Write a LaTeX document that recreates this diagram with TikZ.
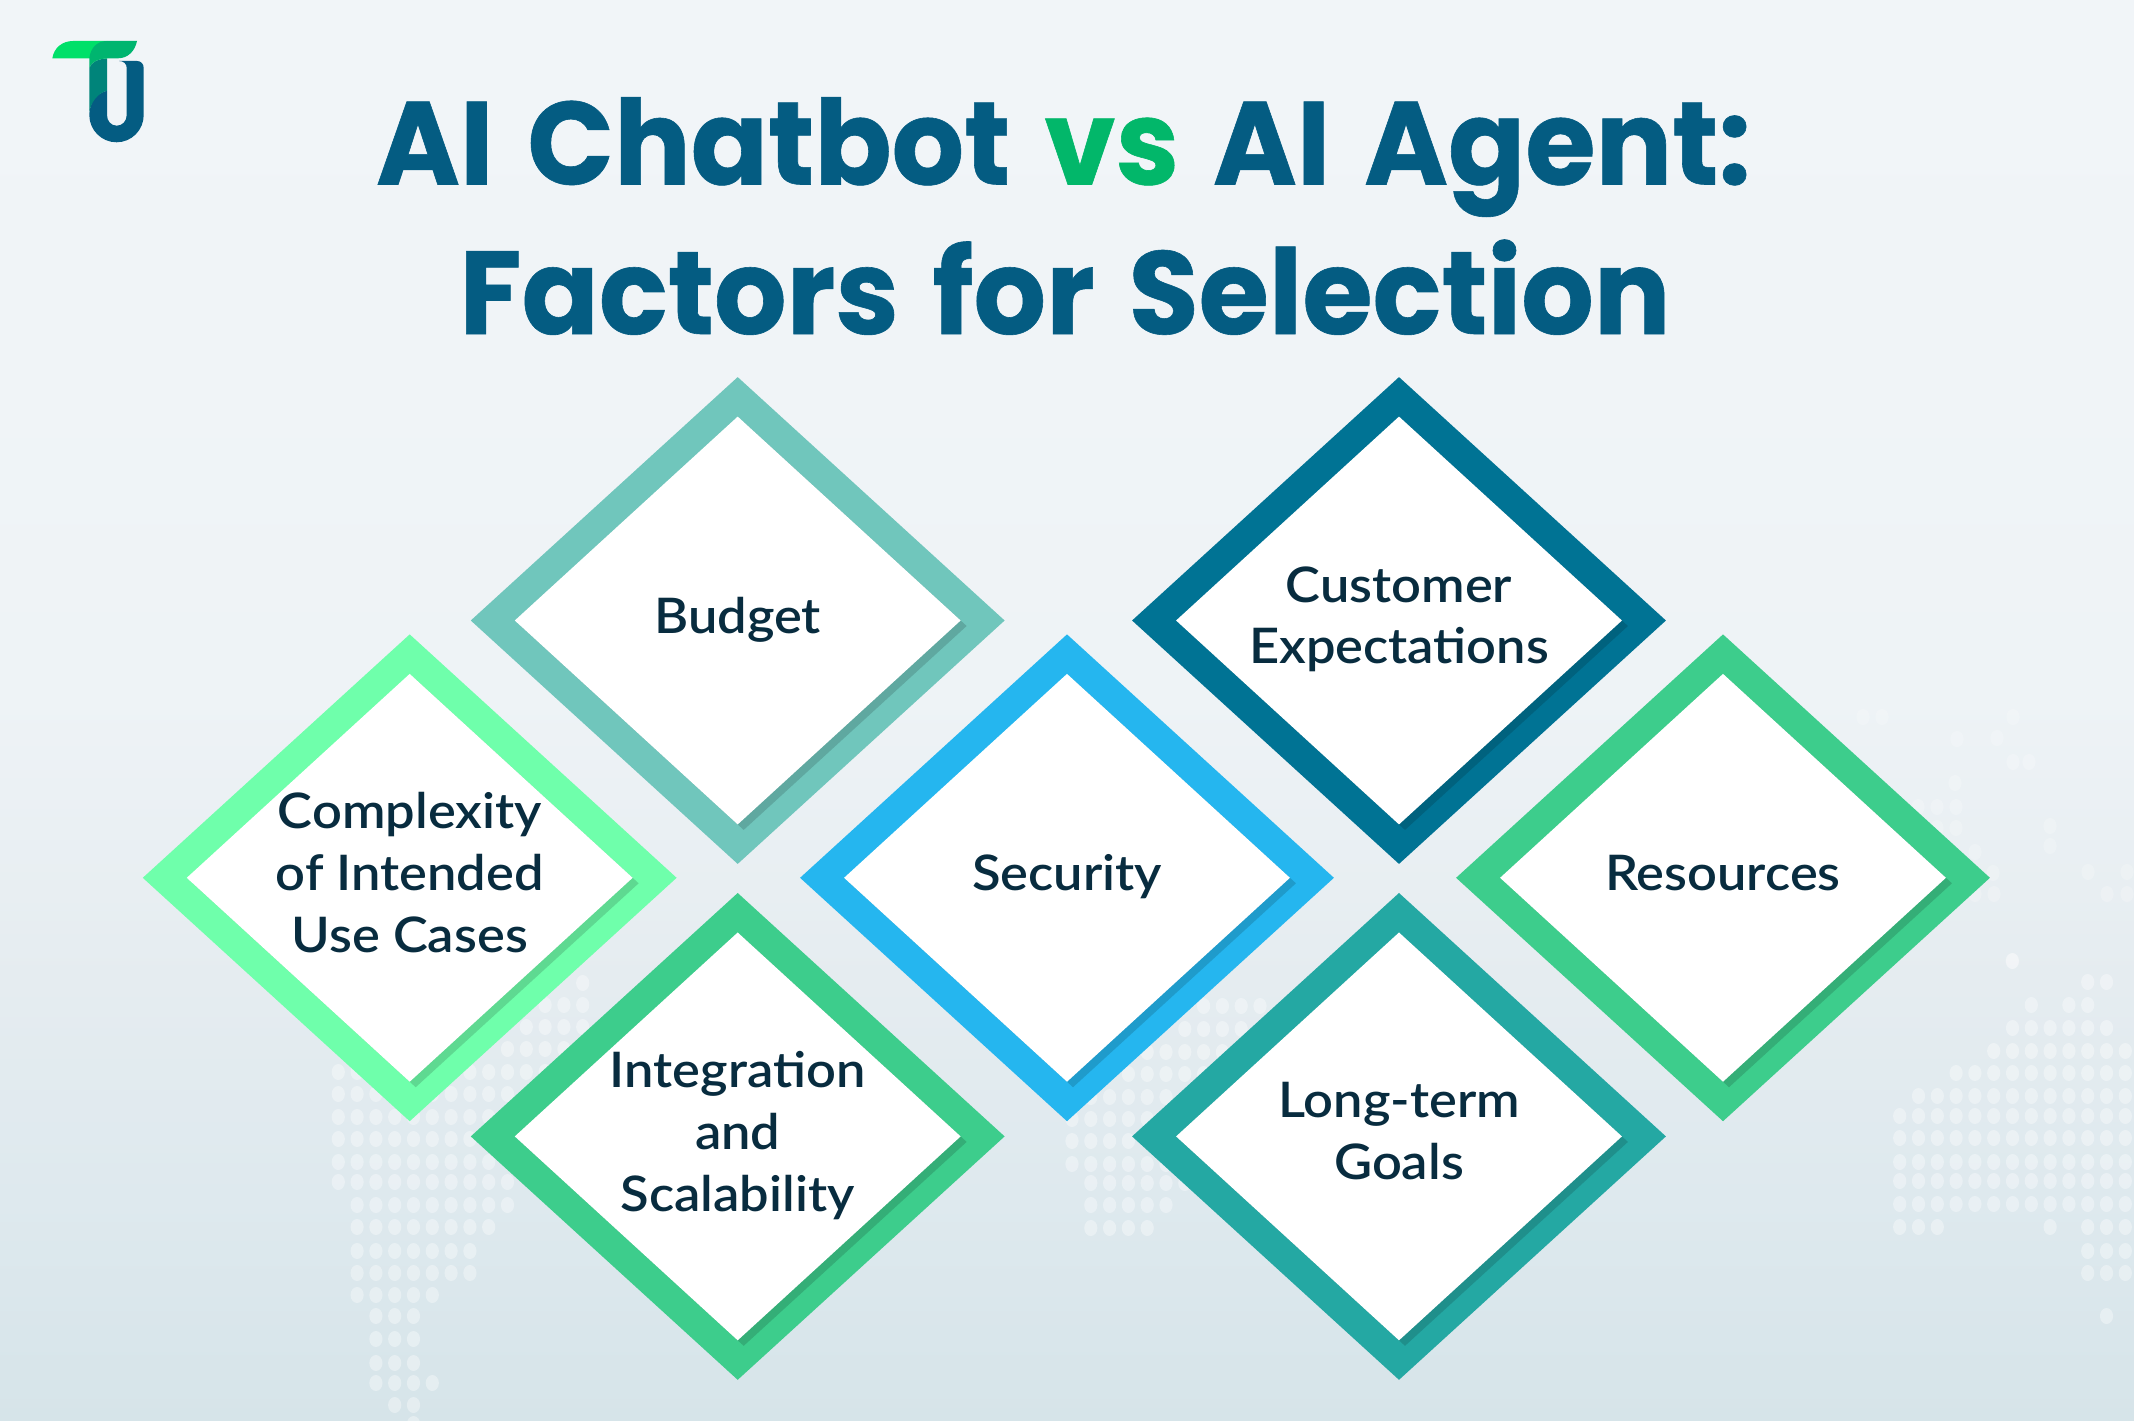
\documentclass[tikz,border=0pt]{standalone}
\usepackage{fontspec}
\usetikzlibrary{shapes.geometric}
\newfontfamily\titlefont{Poppins}[UprightFont=* Bold, FakeStretch=0.965, FakeBold=0.5, WordSpace=1.4]
\newfontfamily\bodyfont{Lato}[UprightFont=* Semibold, FakeStretch=1.07]
\definecolor{tttitle}{RGB}{4,92,130}
\definecolor{ttvs}{RGB}{2,183,106}
\definecolor{ttink}{RGB}{8,44,63}
\definecolor{ttsoft}{RGB}{112,198,188}
\definecolor{ttmint}{RGB}{111,255,171}
\definecolor{ttgreen}{RGB}{61,205,140}
\definecolor{ttsky}{RGB}{37,182,239}
\definecolor{ttdeep}{RGB}{0,115,148}
\definecolor{ttteal}{RGB}{36,168,163}
\definecolor{logolime}{RGB}{0,224,105}
\definecolor{logoleaf}{RGB}{0,181,111}
\definecolor{logostem}{RGB}{0,132,122}
\definecolor{bgtop}{RGB}{241,245,248}
\definecolor{bgupper}{RGB}{240,244,247}
\definecolor{bgmid}{RGB}{238,243,246}
\definecolor{bglow}{RGB}{229,236,240}
\definecolor{bgfoot}{RGB}{222,233,238}
\definecolor{bgend}{RGB}{214,228,233}
\pgfdeclareverticalshading{bgfade}{100bp}{color(0bp)=(bgend); color(25bp)=(bgend); color(32.8bp)=(bgfoot); color(40.5bp)=(bglow); color(50.4bp)=(bgmid); color(62.7bp)=(bgupper); color(75bp)=(bgtop); color(100bp)=(bgtop)}
\tikzstyle{frame} = [diamond, inner sep=0pt, minimum width=534pt, minimum height=487pt]
\tikzstyle{pane} = [diamond, inner sep=0pt, minimum width=446pt, minimum height=408pt]
\tikzstyle{factor} = [align=center, inner sep=0pt, text=ttink, font=\bodyfont\fontsize{49}{61.8}\selectfont, execute at begin node=\strut, execute at end node=\strut]
\tikzstyle{heading} = [anchor=base, inner sep=0pt, text=tttitle, font=\titlefont\fontsize{118}{150}\selectfont]
\tikzstyle{dot} = [white, opacity=0.36]
\tikzstyle{faintdot} = [white, opacity=0.22]
\newcommand{\dotcluster}[2]{
  \foreach \y/\cols in {#2}
    \foreach \c in \cols
      \fill[dot] (#1+\c*18.8,\y) ellipse (6.6 and 8);
}
\begin{document}
\begin{tikzpicture}[x=1pt,y=-1pt]
\useasboundingbox (0,0) rectangle (2134,1421);
\shade[shading=bgfade] (0,0) rectangle (2134,1421);

\dotcluster{338.3}{983/{13}, 1005/{11,12,13}, 1027/{10,...,13}, 1049/{9,...,13}, 1072/{0,...,11}, 1094/{0,...,9}, 1117/{0,...,8}, 1139/{0,...,8}, 1162/{0,...,8}, 1182/{0,...,9}, 1205/{1,...,9}, 1227/{1,...,8}, 1251/{1,...,7}, 1273/{1,...,7}, 1295/{1,...,5}, 1316/{2,3,4}, 1339/{2,3,4}, 1363/{2,3,4}, 1383/{2,...,5}, 1405/{3,4}, 1424/{4}}
\dotcluster{1072}{1006/{7,...,10}, 1029/{6,...,9}, 1052/{4,...,8}, 1074/{3,...,7}, 1097/{1,...,5}, 1119/{0,...,4}, 1141/{0,...,3}, 1164/{0,...,5}, 1183/{1,...,6}, 1205/{1,...,5}, 1228/{1,...,4}}
\dotcluster{1899.7}{961/{6}, 982/{10,11}, 1005/{7,9,10}, 1028/{6,...,11}, 1051/{5,...,12}, 1073/{3,...,12}, 1096/{1,...,12}, 1116/{0,...,12}, 1138/{0,...,12}, 1162/{0,...,12}, 1181/{0,...,12}, 1204/{0,...,12}, 1227/{0,1,2,8,10,11,12}, 1251/{10,11,12}, 1273/{10,11,12}, 1316/{11}}
\foreach \x/\y in {1863/717, 1882/717, 2013/717, 1957/739, 1997/738, 2013/762, 2029/762, 1955/783, 1918/807, 1937/807, 1956/807, 1937/828, 1956/828, 2050/826, 2050/846, 1975/852, 1993/873, 2088/872, 2127/872, 1975/894, 1994/894, 2107/894, 2127/894, 2012/961}
  \fill[faintdot] (\x,\y) ellipse (6.6 and 8);

\fill[tttitle] (89.3,115) .. controls (89.3,102) and (97,93) .. (107,90.7) -- (107,115) .. controls (107,121) and (111,125.7) .. (116.7,125.7) .. controls (122.5,125.7) and (126.7,121) .. (126.7,115) -- (126.7,68) .. controls (126.7,64) and (124,61) .. (119,61) -- (137,61) .. controls (141,61) and (143.7,64) .. (143.7,68) -- (143.7,115) .. controls (143.7,130) and (131.7,142.3) .. (116.5,142.3) .. controls (101.5,142.3) and (89.3,130) .. (89.3,115) -- cycle;
\fill[logostem] (89.3,112) -- (89.3,68) .. controls (91,62) and (98,59) .. (107,58.3) -- (107,90.7) .. controls (98,93) and (91,102) .. (89.3,112) -- cycle;
\fill[logolime] (52.3,58.3) .. controls (54,48) and (62,41) .. (73,41) -- (107,41) -- (107,58.3) -- cycle;
\fill[logoleaf] (89.3,68) -- (89.3,58.3) .. controls (90.5,48) and (97,41) .. (107,41) -- (137,41) .. controls (135,51) and (128,58.3) .. (118,58.3) -- (107,58.3) .. controls (98,59) and (91,62) .. (89.3,68) -- cycle;

\node[heading] (titleone) at (1063.5,184.5) {AI Chatbot \textcolor{ttvs}{vs} AI Agent:};
\node[heading] (titletwo) at (1065,334) {Factors for Selection};

\foreach \name/\x/\y/\dy/\col/\txt in {
  budget/737.7/620.5/1/ttsoft/{Budget},
  custom/1399/620.5/4/ttdeep/{Customer\\Expectations},
  complex/409.7/877.8/4/ttmint/{Complexity\\of Intended\\Use Cases},
  security/1067/877.8/0/ttsky/{Security},
  resource/1723/877.8/0/ttgreen/{Resources},
  integrate/737.7/1136.4/4/ttgreen/{Integration\\and\\Scalability},
  longterm/1399/1136.4/4/ttteal/{Long-term\\Goals}}{
  \node[frame, fill=\col] (\name frame) at (\x,\y) {};
  \node[pane, fill=\col!85!black] (\name shade) at (\x+6,\y+5.5) {};
  \node[pane, fill=white] (\name pane) at (\x,\y) {};
  \node[factor] (\name) at (\x,\y+\dy) {\txt};
}
\end{tikzpicture}
\end{document}
